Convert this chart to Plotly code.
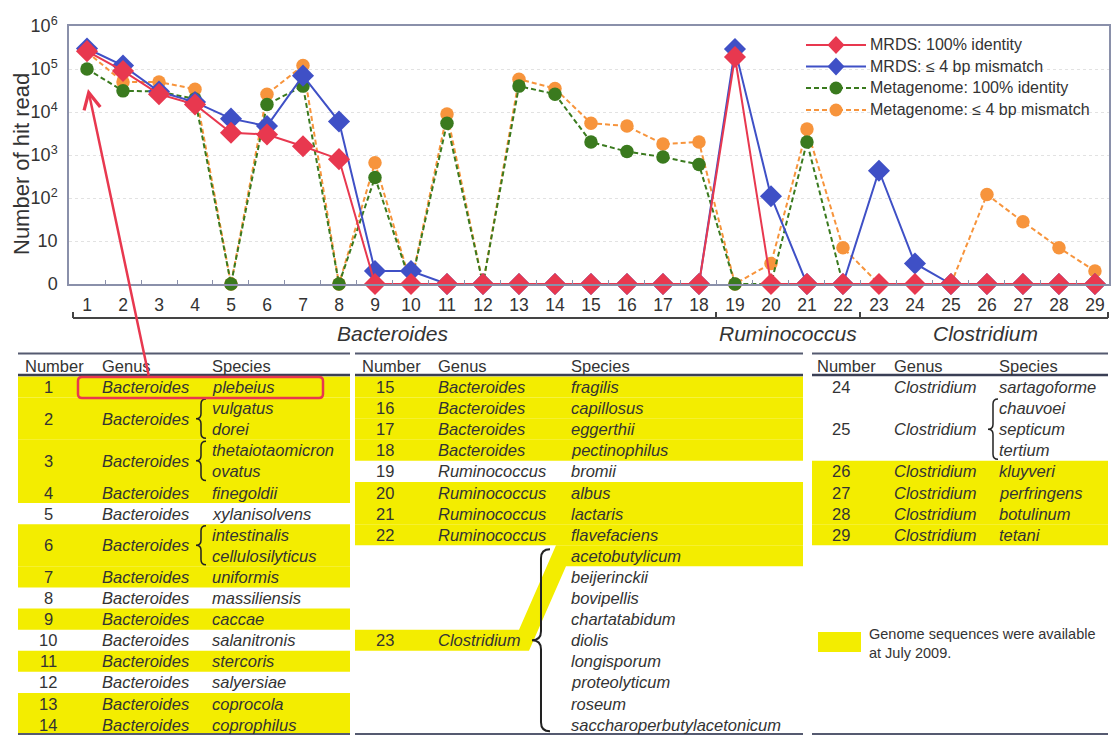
import numpy as np
import plotly.graph_objects as go

W, H = 1113, 735

# ---------------- data ----------------
species_no = list(range(1, 30))
mrds_100 = [2.6e5, 9e4, 2.6e4, 1.5e4, 3.3e3, 3.0e3, 1.6e3, 8e2,
            0, 0, 0, 0, 0, 0, 0, 0, 0, 0,
            1.9e5, 0, 0, 0, 0, 0, 0, 0, 0, 0, 0]
mrds_4bp = [3.0e5, 1.2e5, 3.0e4, 1.7e4, 7e3, 4.7e3, 7e4, 6e3, 2, 2,
            0, 0, 0, 0, 0, 0, 0, 0,
            2.9e5, 1.1e2, 0, 0, 4.3e2, 3, 0, 0, 0, 0, 0]
meta_100 = [1.0e5, 3.1e4, 3.0e4, 2.0e4, 0, 1.5e4, 4.0e4, 0, 3.0e2, 0,
            5.5e3, 0, 4.0e4, 2.6e4, 2.0e3, 1.2e3, 9e2, 6e2, 0, 0,
            2.0e3, 0, 0, 0, 0, 0, 0, 0, 0]
meta_4bp = [2.5e5, 5e4, 5e4, 3.4e4, 0, 2.6e4, 1.2e5, 0, 6.6e2, 0,
            9e3, 0, 5.8e4, 3.5e4, 5.5e3, 4.7e3, 1.8e3, 2.0e3, 0, 3,
            4e3, 7, 0, 0, 0, 1.2e2, 28, 7, 2]

y_tickvals = [0, 1, 2, 3, 4, 5, 6]
y_ticktext = ["0", "10", "10<sup>2</sup>", "10<sup>3</sup>", "10<sup>4</sup>",
              "10<sup>5</sup>", "10<sup>6</sup>"]

series_names = ["MRDS: 100% identity", "MRDS: \u2264 4 bp mismatch",
                "Metagenome: 100% identity", "Metagenome: \u2264 4 bp mismatch"]

genus_groups = ["Bacteroides", "Ruminococcus", "Clostridium"]

# table entries: number, genus, species list, genome available
tbl_numbers = list(range(1, 30))
tbl_genus = (["Bacteroides"] * 18 + ["Ruminococcus"] * 4 + ["Clostridium"] * 7)
tbl_species = [
    ["plebeius"], ["vulgatus", "dorei"], ["thetaiotaomicron", "ovatus"],
    ["finegoldii"], ["xylanisolvens"], ["intestinalis", "cellulosilyticus"],
    ["uniformis"], ["massiliensis"], ["caccae"], ["salanitronis"],
    ["stercoris"], ["salyersiae"], ["coprocola"], ["coprophilus"],
    ["fragilis"], ["capillosus"], ["eggerthii"], ["pectinophilus"],
    ["bromii"], ["albus"], ["lactaris"], ["flavefaciens"],
    ["acetobutylicum", "beijerinckii", "bovipellis", "chartatabidum", "diolis",
     "longisporum", "proteolyticum", "roseum", "saccharoperbutylacetonicum"],
    ["sartagoforme"], ["chauvoei", "septicum", "tertium"],
    ["kluyveri"], ["perfringens"], ["botulinum"], ["tetani"],
]
tbl_available = [1, 1, 1, 1, 0, 1, 1, 0, 1, 0, 1, 0, 1, 1,
                 1, 1, 1, 1, 0, 1, 1, 1, 1,
                 0, 0, 1, 1, 1, 1]
legend_note = "Genome sequences were available<br>at July 2009."

# ---------------- helpers ----------------
def px(x):
    return x / W


def py(y):
    return 1 - y / H


def to_plot(v):
    v = np.asarray(v, dtype=float)
    out = np.zeros_like(v)
    m = v > 0
    out[m] = np.log10(v[m])
    return out


def path(points, close=False):
    s = "M %.5f,%.5f" % (px(points[0][0]), py(points[0][1]))
    for p in points[1:]:
        s += " L %.5f,%.5f" % (px(p[0]), py(p[1]))
    if close:
        s += " Z"
    return s


def brace_path(xb, y0, y1, w, ym=None):
    if ym is None:
        ym = (y0 + y1) / 2
    pts = [
        ("M", (xb + w, y0)),
        ("Q", (xb, y0), (xb, y0 + w)),
        ("L", (xb, ym - w)),
        ("Q", (xb, ym), (xb - w, ym)),
        ("Q", (xb, ym), (xb, ym + w)),
        ("L", (xb, y1 - w)),
        ("Q", (xb, y1), (xb + w, y1)),
    ]
    s = ""
    for item in pts:
        cmd = item[0]
        s += cmd + " " + " ".join("%.5f,%.5f" % (px(p[0]), py(p[1])) for p in item[1:]) + " "
    return s.strip()


def rrect_path(x0, y0, x1, y1, r):
    s = "M %.5f,%.5f " % (px(x0 + r), py(y0))
    s += "L %.5f,%.5f " % (px(x1 - r), py(y0))
    s += "Q %.5f,%.5f %.5f,%.5f " % (px(x1), py(y0), px(x1), py(y0 + r))
    s += "L %.5f,%.5f " % (px(x1), py(y1 - r))
    s += "Q %.5f,%.5f %.5f,%.5f " % (px(x1), py(y1), px(x1 - r), py(y1))
    s += "L %.5f,%.5f " % (px(x0 + r), py(y1))
    s += "Q %.5f,%.5f %.5f,%.5f " % (px(x0), py(y1), px(x0), py(y1 - r))
    s += "L %.5f,%.5f " % (px(x0), py(y0 + r))
    s += "Q %.5f,%.5f %.5f,%.5f Z" % (px(x0), py(y0), px(x0 + r), py(y0))
    return s


FONT = "Liberation Sans, Arial, sans-serif"
TXT = "#333333"
YELLOW = "#f3ed00"
RED = "#e8384f"
BLUE = "#3f50c6"
GREEN = "#3a7a1e"
ORANGE = "#f7943c"
FRAME = "#8a90aa"
DASH = "5px,3px"

series_colors = [RED, BLUE, GREEN, ORANGE]
series_symbols = ["diamond", "diamond", "circle", "circle"]
series_dash = ["solid", "solid", DASH, DASH]
series_values = [mrds_100, mrds_4bp, meta_100, meta_4bp]

fig = go.Figure()

# draw order: orange, green, blue, red (red on top)
for i in [3, 2, 1, 0]:
    fig.add_trace(go.Scatter(
        x=species_no, y=to_plot(series_values[i]), name=series_names[i],
        mode="lines+markers", cliponaxis=False, showlegend=False,
        line=dict(color=series_colors[i], width=2, dash=series_dash[i]),
        marker=dict(symbol=series_symbols[i], size=17 if series_symbols[i] == "diamond" else 13.5,
                    color=series_colors[i])))

shapes = []
annots = []

# custom legend (top right inside the plot)
for i, ly in enumerate([45, 66.5, 88, 110]):
    shapes.append(dict(type="line", xref="paper", yref="paper", x0=px(806), x1=px(866),
                       y0=py(ly), y1=py(ly),
                       line=dict(color=series_colors[i], width=2, dash=series_dash[i])))
    if series_symbols[i] == "diamond":
        shapes.append(dict(type="path", xref="paper", yref="paper",
                           path=path([(836, ly - 9), (844.5, ly), (836, ly + 9), (827.5, ly)], close=True),
                           line=dict(width=0), fillcolor=series_colors[i]))
    else:
        shapes.append(dict(type="circle", xref="paper", yref="paper",
                           x0=px(829.5), x1=px(842.5), y0=py(ly - 6.5), y1=py(ly + 6.5),
                           line=dict(width=0), fillcolor=series_colors[i]))
    annots.append(dict(text=series_names[i], x=px(868), y=py(ly), xref="paper", yref="paper",
                       showarrow=False, font=dict(size=16, color=TXT),
                       xanchor="left", yanchor="middle"))

# y-axis title
annots.append(dict(text="Number of hit read", x=px(22), y=py(164), xref="paper", yref="paper",
                   textangle=-90, showarrow=False, font=dict(size=22, color=TXT),
                   xanchor="center", yanchor="middle"))

# bracket under x axis
BR = "#444444"
shapes.append(dict(type="line", xref="paper", yref="paper", x0=px(73), x1=px(1108),
                   y0=py(318), y1=py(318), line=dict(color=BR, width=2)))
for xt in [73, 716, 860, 1108]:
    shapes.append(dict(type="line", xref="paper", yref="paper", x0=px(xt), x1=px(xt),
                       y0=py(312), y1=py(318), line=dict(color=BR, width=2)))
for g, xc in zip(genus_groups, [392, 788, 985]):
    annots.append(dict(text="<i>%s</i>" % g, x=px(xc), y=py(333), xref="paper", yref="paper",
                       showarrow=False, font=dict(size=21, color=TXT),
                       xanchor="center", yanchor="middle"))

# ---------------- tables ----------------
ROW0, ROWH = 387.0, 21.1
TS = 16.5
panels = [
    dict(x0=18, x1=350, xhdr=23, xnum=48, xgen=100, xsp=210, xbr=201, ids=range(1, 15)),
    dict(x0=355, x1=803, xhdr=360, xnum=385, xgen=436, xsp=569, xbr=541, ids=range(15, 24)),
    dict(x0=812, x1=1108, xhdr=815, xnum=841, xgen=892, xsp=997, xbr=993, ids=range(24, 30)),
]

for pnl in panels:
    x0, x1 = pnl["x0"], pnl["x1"]
    # rules
    shapes.append(dict(type="line", xref="paper", yref="paper", x0=px(x0), x1=px(x1),
                       y0=py(353.5), y1=py(353.5), line=dict(color="#555a70", width=2)))
    shapes.append(dict(type="line", xref="paper", yref="paper", x0=px(x0), x1=px(x1),
                       y0=py(375), y1=py(375), line=dict(color="#3a3f55", width=2.5)))
    shapes.append(dict(type="line", xref="paper", yref="paper", x0=px(x0), x1=px(x1),
                       y0=py(734), y1=py(734), line=dict(color="#555a70", width=2)))
    # header
    for t, xh in [("Number", pnl["xhdr"]), ("Genus", pnl["xgen"]), ("Species", pnl["xsp"])]:
        annots.append(dict(text=t, x=px(xh), y=py(366), xref="paper", yref="paper",
                           showarrow=False, font=dict(size=TS, color=TXT),
                           xanchor="left", yanchor="middle"))
    li = 0
    for sid in pnl["ids"]:
        k = sid - 1
        sp = tbl_species[k]
        n = len(sp)
        yc = ROW0 + ROWH * (li + (n - 1) / 2)
        ytop = ROW0 + ROWH * li - ROWH / 2
        ybot = ROW0 + ROWH * (li + n - 1) + ROWH / 2
        if tbl_available[k]:
            if n <= 3:
                shapes.append(dict(type="rect", xref="paper", yref="paper", layer="below",
                                   x0=px(x0), x1=px(x1), y0=py(ytop), y1=py(ybot),
                                   line=dict(width=0), fillcolor=YELLOW))
            else:
                # number/genus row joined to first species row by a slanted strip
                yr0, yr1 = yc - ROWH / 2, yc + ROWH / 2
                ys0, ys1 = ytop, ytop + ROWH
                shapes.append(dict(type="path", xref="paper", yref="paper", layer="below",
                                   path=path([(x0, yr0), (519, yr0), (556, ys0), (x1, ys0),
                                              (x1, ys1), (566, ys1), (529, yr1), (x0, yr1)],
                                             close=True),
                                   line=dict(width=0), fillcolor=YELLOW))
        annots.append(dict(text=str(tbl_numbers[k]), x=px(pnl["xnum"]), y=py(yc),
                           xref="paper", yref="paper", showarrow=False,
                           font=dict(size=TS, color=TXT), xanchor="center", yanchor="middle"))
        annots.append(dict(text="<i>%s</i>" % tbl_genus[k], x=px(pnl["xgen"]), y=py(yc),
                           xref="paper", yref="paper", showarrow=False,
                           font=dict(size=TS, color=TXT), xanchor="left", yanchor="middle"))
        for j, s in enumerate(sp):
            annots.append(dict(text="<i>%s</i>" % s, x=px(pnl["xsp"]), y=py(ROW0 + ROWH * (li + j)),
                               xref="paper", yref="paper", showarrow=False,
                               font=dict(size=TS, color=TXT), xanchor="left", yanchor="middle"))
        if n > 1:
            if n <= 3:
                shapes.append(dict(type="path", xref="paper", yref="paper",
                                   path=brace_path(pnl["xbr"], ytop + 1.5, ybot - 1.5, 5),
                                   line=dict(color="#222222", width=1.5)))
            else:
                shapes.append(dict(type="path", xref="paper", yref="paper",
                                   path=brace_path(pnl["xbr"], ytop + 4, ybot - 4, 9, ym=yc),
                                   line=dict(color="#222222", width=2)))
        li += n

# availability legend box
shapes.append(dict(type="rect", xref="paper", yref="paper", layer="below",
                   x0=px(818), x1=px(861), y0=py(632), y1=py(652),
                   line=dict(width=0), fillcolor=YELLOW))
annots.append(dict(text=legend_note, x=px(867), y=py(643), xref="paper", yref="paper",
                   showarrow=False, align="left", font=dict(size=14.5, color=TXT),
                   xanchor="left", yanchor="middle"))

# red highlight box + arrow
shapes.append(dict(type="path", xref="paper", yref="paper", path=rrect_path(78, 377, 323, 398, 4),
                   line=dict(color=RED, width=2.5)))
annots.append(dict(text="", x=px(88), y=py(89), ax=149 - 88, ay=377 - 89,
                   xref="paper", yref="paper", axref="pixel", ayref="pixel",
                   showarrow=True, arrowhead=5, arrowsize=1.3, arrowwidth=2.5,
                   arrowcolor=RED, standoff=0, startstandoff=0))

fig.update_layout(
    width=W, height=H, autosize=False,
    margin=dict(l=0, r=0, t=0, b=0),
    paper_bgcolor="white", plot_bgcolor="white",
    font=dict(family=FONT, color=TXT),
    showlegend=False,
    xaxis=dict(domain=[px(69), px(1109)], range=[0.5, 29.39],
               tickmode="array", tickvals=species_no, ticktext=[str(v) for v in species_no],
               tickfont=dict(size=17.5, color=TXT), ticks="", ticklabelstandoff=4,
               showline=True, linecolor=FRAME, linewidth=1.5, mirror=True,
               showgrid=False, zeroline=False, automargin=False,
               minor=dict(tickmode="array", tickvals=[v + 0.5 for v in species_no[:-1]],
                          ticks="inside", ticklen=4, tickcolor=FRAME, showgrid=False)),
    yaxis=dict(domain=[py(284), py(26)], range=[0, 6],
               tickmode="array", tickvals=y_tickvals, ticktext=y_ticktext,
               tickfont=dict(size=18, color=TXT), ticks="", ticklabelstandoff=6,
               showline=True, linecolor=FRAME, linewidth=1.5, mirror=True,
               showgrid=True, gridcolor="#e2e2e2", griddash="dot",
               zeroline=False, automargin=False),
    shapes=shapes,
    annotations=annots,
)

fig.write_html("out.html", config={"displayModeBar": False},
               post_script="document.body.style.margin='0';document.body.style.overflow='hidden';")
